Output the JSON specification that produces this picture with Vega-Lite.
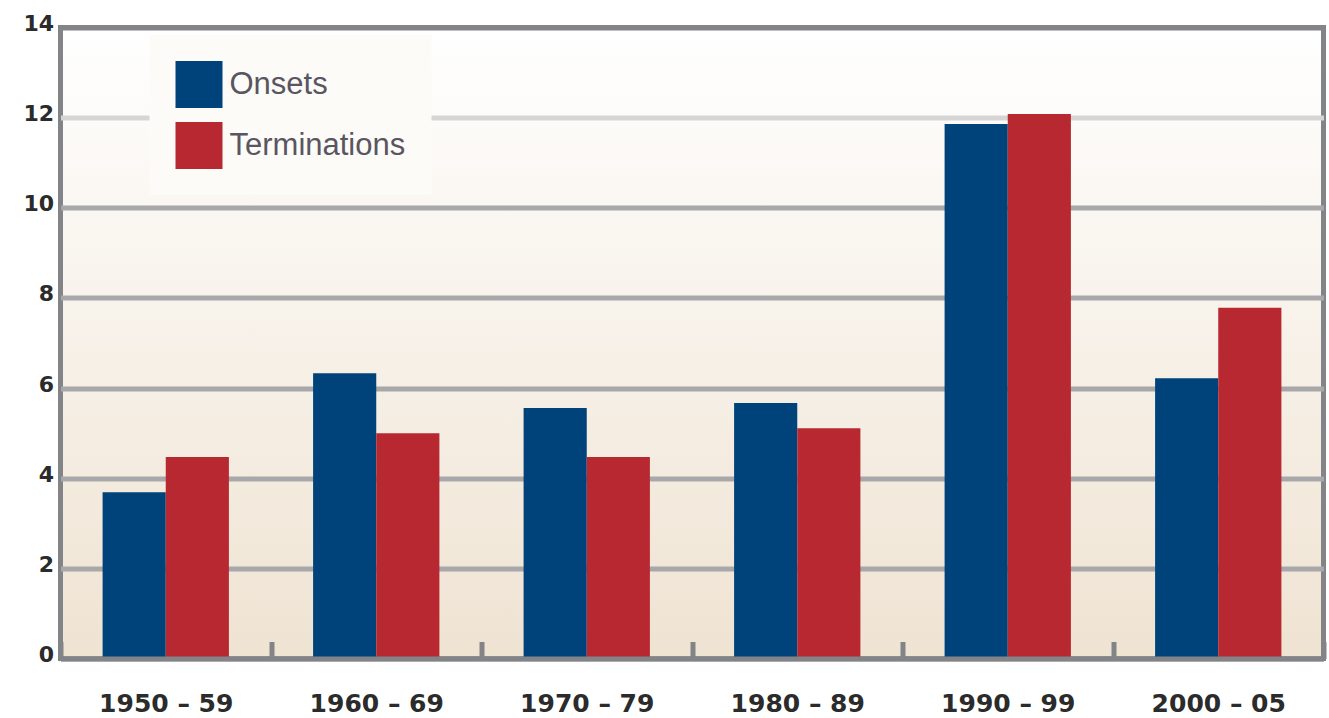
{
  "$schema": "https://vega.github.io/schema/vega-lite/v6.json",
  "width": 1263,
  "height": 631,
  "autosize": {"type": "none"},
  "padding": {"left": 60.5, "top": 27.5, "right": 5.5, "bottom": 59.5},
  "background": "#FFFFFF",
  "config": {
    "view": {
      "stroke": "#838487",
      "strokeWidth": 5,
      "fill": {"gradient": "linear", "x1": 0, "y1": 0, "x2": 0, "y2": 1,
        "stops": [{"offset": 0, "color": "#FFFFFF"}, {"offset": 1, "color": "#EFE3D2"}]}
    },
    "legend": {
      "orient": "none",
      "legendX": 89,
      "legendY": 7.5,
      "direction": "vertical",
      "fillColor": "#FCFBF8",
      "padding": 26,
      "symbolType": "square",
      "symbolSize": 2209,
      "symbolStrokeWidth": 0,
      "symbolOpacity": 1,
      "labelFont": "Liberation Sans",
      "labelFontSize": 31,
      "labelColor": "#5a5560",
      "labelOffset": 7,
      "rowPadding": 14,
      "labelLimit": 400
    }
  },
  "data": {
    "values": [
      {"period": "1950 – 59", "series": "Onsets", "value": 3.69},
      {"period": "1950 – 59", "series": "Terminations", "value": 4.47},
      {"period": "1960 – 69", "series": "Onsets", "value": 6.33},
      {"period": "1960 – 69", "series": "Terminations", "value": 5.0},
      {"period": "1970 – 79", "series": "Onsets", "value": 5.56},
      {"period": "1970 – 79", "series": "Terminations", "value": 4.47},
      {"period": "1980 – 89", "series": "Onsets", "value": 5.67},
      {"period": "1980 – 89", "series": "Terminations", "value": 5.11},
      {"period": "1990 – 99", "series": "Onsets", "value": 11.86},
      {"period": "1990 – 99", "series": "Terminations", "value": 12.08},
      {"period": "2000 – 05", "series": "Onsets", "value": 6.22},
      {"period": "2000 – 05", "series": "Terminations", "value": 7.78}
    ]
  },
  "mark": {"type": "bar"},
  "encoding": {
    "x": {
      "field": "period",
      "type": "nominal",
      "sort": null,
      "scale": {"paddingInner": 0, "paddingOuter": 0},
      "axis": {
        "title": null,
        "labelAngle": 0,
        "labelFont": "DejaVu Sans",
        "labelFontSize": 25,
        "labelFontWeight": "bold",
        "labelColor": "#2b2b2b",
        "labelPadding": 50,
        "domain": true,
        "domainColor": "#838487",
        "domainWidth": 5,
        "ticks": true,
        "tickBand": "extent",
        "tickSize": -17,
        "tickColor": "#838487",
        "tickWidth": 5,
        "grid": false,
        "zindex": 1
      }
    },
    "xOffset": {
      "field": "series",
      "type": "nominal",
      "scale": {"paddingInner": 0, "paddingOuter": 0.6667}
    },
    "y": {
      "field": "value",
      "type": "quantitative",
      "scale": {"domain": [0, 14], "nice": false},
      "axis": {
        "title": null,
        "values": [0, 2, 4, 6, 8, 10, 12, 14],
        "format": "d",
        "grid": true,
        "gridWidth": 5,
        "gridColor": {
          "condition": [
            {"test": "datum.value === 12", "value": "#D5D5D5"},
            {"test": "datum.value === 14", "value": "#838487"}
          ],
          "value": "#A8A8AB"
        },
        "domain": false,
        "ticks": false,
        "tickSize": 0,
        "labelPadding": 7,
        "labelOffset": -4,
        "labelFont": "DejaVu Sans",
        "labelFontSize": 22,
        "labelFontWeight": "bold",
        "labelColor": "#2b2b2b"
      }
    },
    "color": {
      "field": "series",
      "type": "nominal",
      "scale": {"domain": ["Onsets", "Terminations"], "range": ["#00427A", "#B72830"]},
      "legend": {"title": null}
    }
  }
}
